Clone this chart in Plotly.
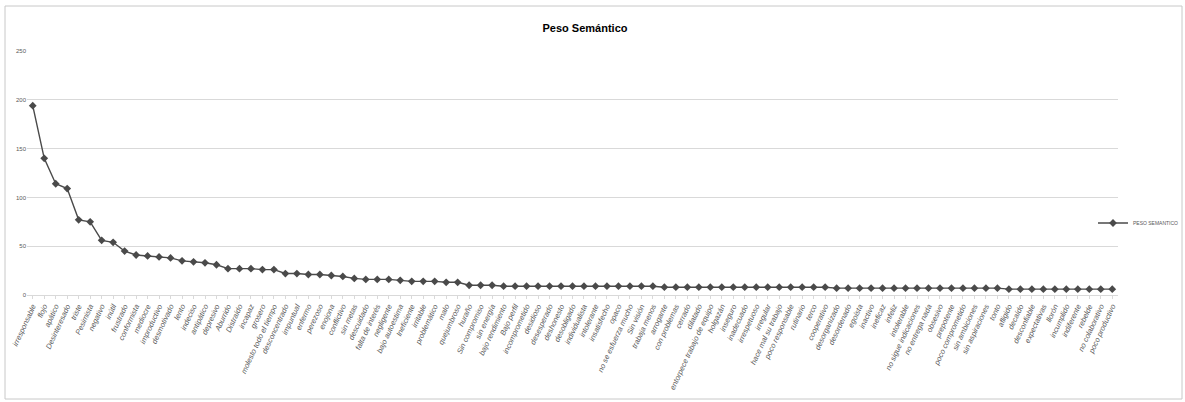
import plotly.graph_objects as go

# Adjectives (categories) ordered by semantic weight
categorias = [
    "irresponsable", "flojo", "apático", "Desinteresado", "triste", "Pesimista",
    "negativo", "inútil", "frustrado", "conformista", "mediocre", "improductivo",
    "desmotivado", "lento", "indeciso", "antipático", "depresivo", "Aburrido",
    "Distraído", "incapaz", "grosero", "molesto todo el tiempo", "desconcentrado",
    "impuntual", "enfermo", "perezoso", "enojona", "conflictivo", "sin metas",
    "descuidado", "falta de interés", "negligente", "bajo autoestima", "Ineficiente",
    "irritable", "problemático", "malo", "quejumbroso", "huraño", "Sin compromiso",
    "sin energía", "bajo rendimiento", "Bajo perfil", "incomprometido", "desidioso",
    "desesperado", "deshonesto", "desobligado", "individualista", "intolerante",
    "insatisfecho", "opaco", "no se esfuerza mucho", "Sin visión", "trabaja menos",
    "arrogante", "con problemas", "cerrado", "dilatado", "entorpece trabajo de equipo",
    "holgazán", "inseguro", "inadecuado", "irrespetuoso", "irregular",
    "hace mal su trabajo", "poco responsable", "rutinario", "terco", "cooperativo",
    "desorganizado", "desordenado", "egoísta", "inactivo", "ineficaz", "infeliz",
    "intolerable", "no sigue indicaciones", "no entrega nada", "obsesivo",
    "prepotente", "poco comprometido", "sin ambiciones", "sin aspiraciones", "tonto",
    "afligido", "decaído", "desconfiable", "expectativas", "llorón", "incumplido",
    "indiferente", "rebelde", "no colaborativo", "poco productivo",
]

# Semantic weight per adjective
peso_semantico = [
    194, 140, 114, 109, 77, 75, 56, 54, 45, 41, 40, 39, 38, 35, 34, 33, 31, 27,
    27, 27, 26, 26, 22, 22, 21, 21, 20, 19, 17, 16, 16, 16, 15, 14, 14, 14, 13,
    13, 10, 10, 10, 9, 9, 9, 9, 9, 9, 9, 9, 9, 9, 9, 9, 9, 9, 8, 8, 8, 8, 8,
    8, 8, 8, 8, 8, 8, 8, 8, 8, 8, 7, 7, 7, 7, 7, 7, 7, 7, 7, 7, 7, 7, 7, 7, 7,
    6, 6, 6, 6, 6, 6, 6, 6, 6, 6,
]

y_ticks = [0, 50, 100, 150, 200, 250]

W, H = 1185, 402
L, R, T, B = 27, 67, 51, 107
pw = W - L - R
ph = H - T - B

fig = go.Figure()
fig.add_trace(go.Scatter(
    x=list(range(len(categorias))),
    y=peso_semantico,
    mode="lines+markers",
    name="PESO SEMANTICO",
    line=dict(color="#4a4a4a", width=1.4),
    marker=dict(symbol="diamond", size=6, color="#4a4a4a"),
))

# thin frame around the whole chart
fig.add_shape(
    type="rect", xref="paper", yref="paper",
    x0=(5 - L) / pw, x1=(W - 3 - L) / pw,
    y0=(T + ph - (H - 3)) / ph, y1=(T + ph - 6) / ph,
    line=dict(color="#c8c8c8", width=1), layer="below",
)

fig.update_layout(
    width=W, height=H,
    margin=dict(l=L, r=R, t=T, b=B, autoexpand=False),
    paper_bgcolor="white", plot_bgcolor="white",
    font=dict(family="Liberation Sans, Arial, sans-serif", color="#595959"),
    title=dict(
        text="<b>Peso Semántico</b>",
        x=585 / W, xref="container", xanchor="center",
        y=1 - 28 / H, yref="container", yanchor="middle",
        font=dict(size=11, color="#000000"),
    ),
    showlegend=True,
    legend=dict(
        x=(1093 - L) / pw, xanchor="left", y=(295 - 223) / ph, yanchor="middle",
        font=dict(size=5, color="#595959"),
        bgcolor="rgba(0,0,0,0)", itemwidth=30,
    ),
    xaxis=dict(
        tickmode="array",
        tickvals=list(range(len(categorias))),
        ticktext=["<i>" + c + "</i>" for c in categorias],
        tickangle=-65,
        tickfont=dict(size=7.5, color="#595959"),
        range=[-0.5, len(categorias) - 0.5],
        showgrid=False, zeroline=False,
        showline=True, linecolor="#d9d9d9", linewidth=1,
        ticks="outside", ticklen=3, tickcolor="#d9d9d9",
    ),
    yaxis=dict(
        range=[0, 250],
        tickvals=y_ticks,
        tickfont=dict(size=6, color="#595959"),
        showgrid=True, gridcolor="#d9d9d9", gridwidth=1,
        zeroline=False, showline=False,
    ),
)

fig.write_html("out.html")
